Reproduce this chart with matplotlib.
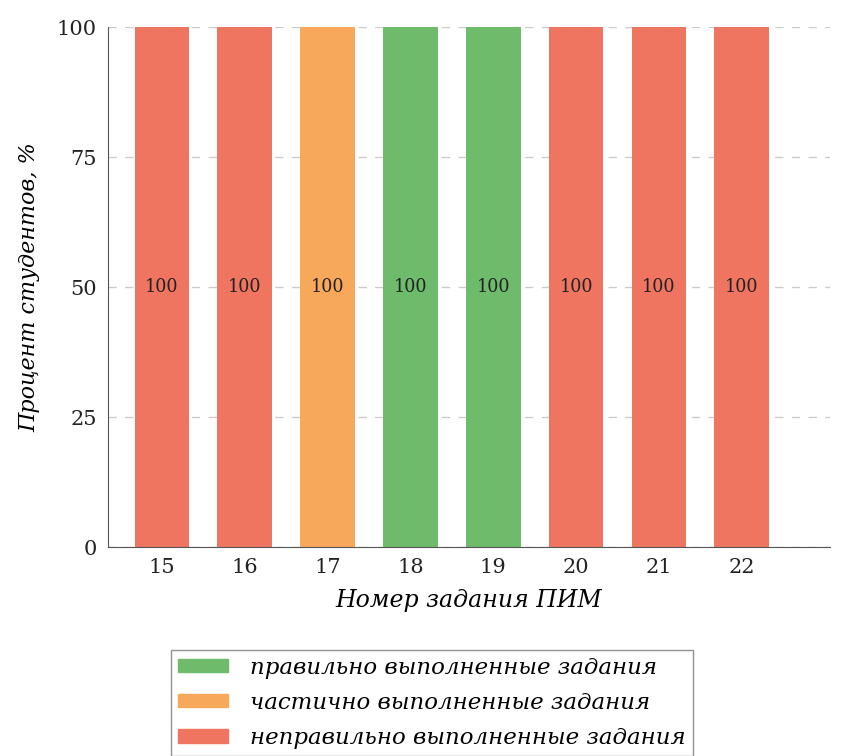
import matplotlib
matplotlib.use('Agg')
import matplotlib.pyplot as plt
from matplotlib.patches import Patch

tasks = [15, 16, 17, 18, 19, 20, 21, 22]
percent = [100, 100, 100, 100, 100, 100, 100, 100]
status = ['wrong', 'wrong', 'partial', 'right', 'right', 'wrong', 'wrong', 'wrong']

colors = {'right': '#6dbb6b', 'partial': '#f7a85a', 'wrong': '#ef7561'}
legend_labels = ['правильно выполненные задания',
                 'частично выполненные задания',
                 'неправильно выполненные задания']

plt.rcParams['font.family'] = ['DejaVu Serif']

fig = plt.figure(figsize=(8.44, 7.56), dpi=100)
ax = fig.add_axes([0.128, 0.276, 0.855, 0.688])

bars = ax.bar(tasks, percent, width=0.66, color=[colors[s] for s in status], zorder=2)
for b, v in zip(bars, percent):
    ax.text(b.get_x() + b.get_width() / 2, v / 2, str(v), ha='center', va='center',
            fontsize=14, fontstretch='condensed', color='#222222', zorder=3)

ax.set_xlim(14.35, 23.06)
ax.set_ylim(0, 100)
ax.set_xticks(tasks)
ax.set_yticks([0, 25, 50, 75, 100])
ax.tick_params(labelsize=15, length=0, pad=8, colors='#222222')
ax.yaxis.grid(True, linestyle=(0, (6, 6)), color='#cccccc', linewidth=1, zorder=1)
for s in ['top', 'right']:
    ax.spines[s].set_visible(False)
for s in ['left', 'bottom']:
    ax.spines[s].set_color('#555555')

ax.set_xlabel('Номер задания ПИМ', fontsize=17, style='italic', labelpad=8)
ax.set_ylabel('Процент студентов, %', fontsize=16, style='italic', labelpad=12)

handles = [Patch(color=colors[k]) for k in ['right', 'partial', 'wrong']]
leg = fig.legend(handles, legend_labels, loc='upper left', bbox_to_anchor=(171 / 844, 1 - 650 / 756),
                 borderaxespad=0, prop={'size': 16.5, 'style': 'italic'}, fancybox=False,
                 edgecolor='#777777', handlelength=2.2, handleheight=0.52, handletextpad=0.95,
                 borderpad=0.3, labelspacing=0.57)

fig.savefig('out.png', dpi=100)
